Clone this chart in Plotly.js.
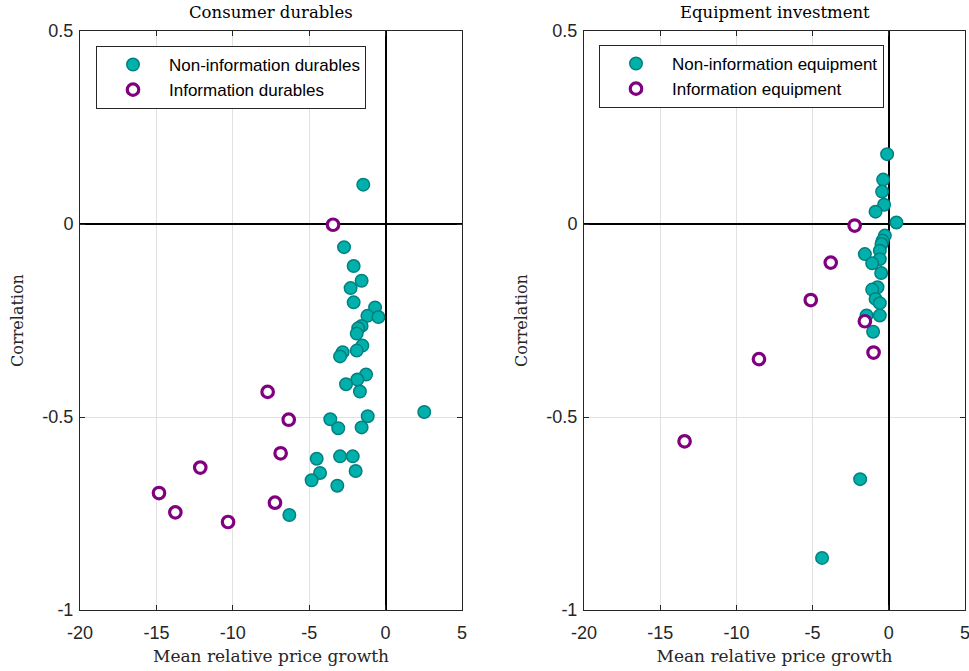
<!DOCTYPE html>
<html>
<head>
<meta charset="utf-8">
<script src="https://cdn.plot.ly/plotly-3.0.1.min.js"></script>
<style>html,body{margin:0;padding:0;background:#fff;}#chart{width:969px;height:671px;}</style>
</head>
<body>
<div id="chart"></div>
<script>
// ---- Data: Consumer durables ----
const durNonInfoX = [-1.46,-2.72,-2.09,-1.57,-2.29,-2.09,-0.69,-1.19,-0.47,-1.57,-1.79,-1.89,-1.52,-1.89,-2.81,-2.98,-1.28,-1.85,-2.59,-1.68,2.53,-1.17,-3.62,-3.10,-1.57,-4.51,-2.98,-2.15,-4.29,-1.96,-4.84,-3.16,-6.30];
const durNonInfoY = [0.102,-0.060,-0.109,-0.147,-0.166,-0.203,-0.216,-0.238,-0.241,-0.264,-0.270,-0.284,-0.315,-0.328,-0.332,-0.343,-0.390,-0.403,-0.415,-0.434,-0.487,-0.498,-0.506,-0.529,-0.527,-0.608,-0.602,-0.602,-0.645,-0.640,-0.664,-0.678,-0.754];
const durInfoX = [-3.44,-7.72,-6.34,-6.87,-12.13,-14.83,-13.76,-10.31,-7.24];
const durInfoY = [-0.002,-0.435,-0.507,-0.594,-0.631,-0.697,-0.747,-0.772,-0.722];

// ---- Data: Equipment investment ----
const eqNonInfoX = [-0.11,-0.37,-0.44,-0.31,-0.87,0.50,-0.26,-0.41,-0.48,-0.59,-1.57,-0.59,-1.09,-0.50,-0.74,-1.09,-0.87,-0.59,-0.59,-1.46,-1.03,-1.88,-4.38];
const eqNonInfoY = [0.181,0.115,0.084,0.050,0.032,0.004,-0.030,-0.043,-0.052,-0.069,-0.078,-0.091,-0.102,-0.127,-0.164,-0.170,-0.194,-0.205,-0.237,-0.237,-0.279,-0.661,-0.865];
const eqInfoX = [-2.24,-3.81,-5.12,-8.52,-1.57,-1.00,-13.40];
const eqInfoY = [-0.004,-0.100,-0.197,-0.350,-0.252,-0.333,-0.563];

// ---- Labels ----
const panelTitles = ['Consumer durables','Equipment investment'];
const xTitle = 'Mean relative price growth';
const yTitle = 'Correlation';
const legendNames = [['Non-information durables','Information durables'],['Non-information equipment','Information equipment']];
const xTickVals = [-20,-15,-10,-5,0,5];
const xTickText = ['-20','-15','-10','-5','0','5'];
const yTickVals = [-1,-0.5,0,0.5];
const yTickText = ['-1','-0.5','0','0.5'];

const teal = 'rgb(0,176,170)', tealEdge = 'rgb(0,128,128)', purple = 'rgb(128,0,128)';
const axisColor = 'rgb(38,38,38)';
const sans = '"Liberation Sans", Arial, Helvetica, sans-serif';
const serif = '"DejaVu Serif", "Liberation Serif", serif';

function nonInfo(x, y, name, xa, ya, lg, grp) {
  return {x, y, name, type:'scatter', mode:'markers', xaxis:xa, yaxis:ya, legend:lg, legendgroup:grp,
    marker:{size:12.5, color:teal, line:{color:tealEdge, width:1.5}}};
}
function info(x, y, name, xa, ya, lg, grp) {
  return {x, y, name, type:'scatter', mode:'markers', xaxis:xa, yaxis:ya, legend:lg, legendgroup:grp,
    marker:{size:11.5, color:'white', line:{color:purple, width:3.2}}};
}

const data = [
  nonInfo(durNonInfoX, durNonInfoY, legendNames[0][0], 'x', 'y', 'legend', 'a1'),
  info(durInfoX, durInfoY, legendNames[0][1], 'x', 'y', 'legend', 'b1'),
  nonInfo(eqNonInfoX, eqNonInfoY, legendNames[1][0], 'x2', 'y2', 'legend2', 'a2'),
  info(eqInfoX, eqInfoY, legendNames[1][1], 'x2', 'y2', 'legend2', 'b2')
];

const W = 969, H = 671;
function xaxis(d0, d1, anchor) {
  return {domain:[d0/W, d1/W], anchor, range:[-20,5], tickvals:xTickVals, ticktext:xTickText,
    showline:true, mirror:'ticks', linecolor:axisColor, linewidth:1,
    ticks:'inside', ticklen:5, tickcolor:axisColor, tickwidth:1,
    showgrid:true, gridcolor:'rgb(225,225,225)', gridwidth:1,
    zeroline:true, zerolinecolor:'black', zerolinewidth:2,
    tickfont:{family:sans, size:18, color:'rgb(38,38,38)'}, ticklabelstandoff:6, ticklabeloverflow:'allow',
    title:{text:xTitle, font:{family:serif, size:17, color:'rgb(38,38,38)'}, standoff:8},
    fixedrange:true};
}
function yaxis(anchor) {
  return {domain:[(H-610)/H, (H-31)/H], anchor, range:[-1,0.5], tickvals:yTickVals, ticktext:yTickText,
    showline:true, mirror:'ticks', linecolor:axisColor, linewidth:1,
    ticks:'inside', ticklen:5, tickcolor:axisColor, tickwidth:1,
    showgrid:true, gridcolor:'rgb(225,225,225)', gridwidth:1,
    zeroline:true, zerolinecolor:'black', zerolinewidth:2,
    tickfont:{family:sans, size:18, color:'rgb(38,38,38)'}, ticklabelstandoff:2, ticklabeloverflow:'allow',
    title:{text:yTitle, font:{family:serif, size:16, color:'rgb(38,38,38)'}, standoff:14},
    fixedrange:true};
}
function legend(xpx, ypx) {
  return {x:xpx/W, y:(H-ypx)/H, xanchor:'left', yanchor:'top',
    bgcolor:'white', bordercolor:axisColor, borderwidth:1, itemwidth:62,
    font:{family:sans, size:17, color:'black'}, tracegroupgap:0, itemsizing:'trace'};
}

const layout = {
  width:W, height:H, margin:{l:0, r:0, t:0, b:0},
  paper_bgcolor:'white', plot_bgcolor:'white', showlegend:true,
  xaxis:xaxis(80, 462, 'y'), yaxis:yaxis('x'),
  xaxis2:xaxis(584, 965, 'y2'), yaxis2:yaxis('x2'),
  legend:legend(96, 46), legend2:legend(599, 45),
  annotations:[
    {text:panelTitles[0], xref:'paper', yref:'paper', x:(80+462)/2/W, y:(H-13)/H, xanchor:'center', yanchor:'middle', showarrow:false, font:{family:serif, size:16.5, color:'black'}},
    {text:panelTitles[1], xref:'paper', yref:'paper', x:(584+965)/2/W, y:(H-13)/H, xanchor:'center', yanchor:'middle', showarrow:false, font:{family:serif, size:16.5, color:'black'}}
  ]
};

Plotly.newPlot('chart', data, layout, {displayModeBar:false, staticPlot:true});
</script>
</body>
</html>
